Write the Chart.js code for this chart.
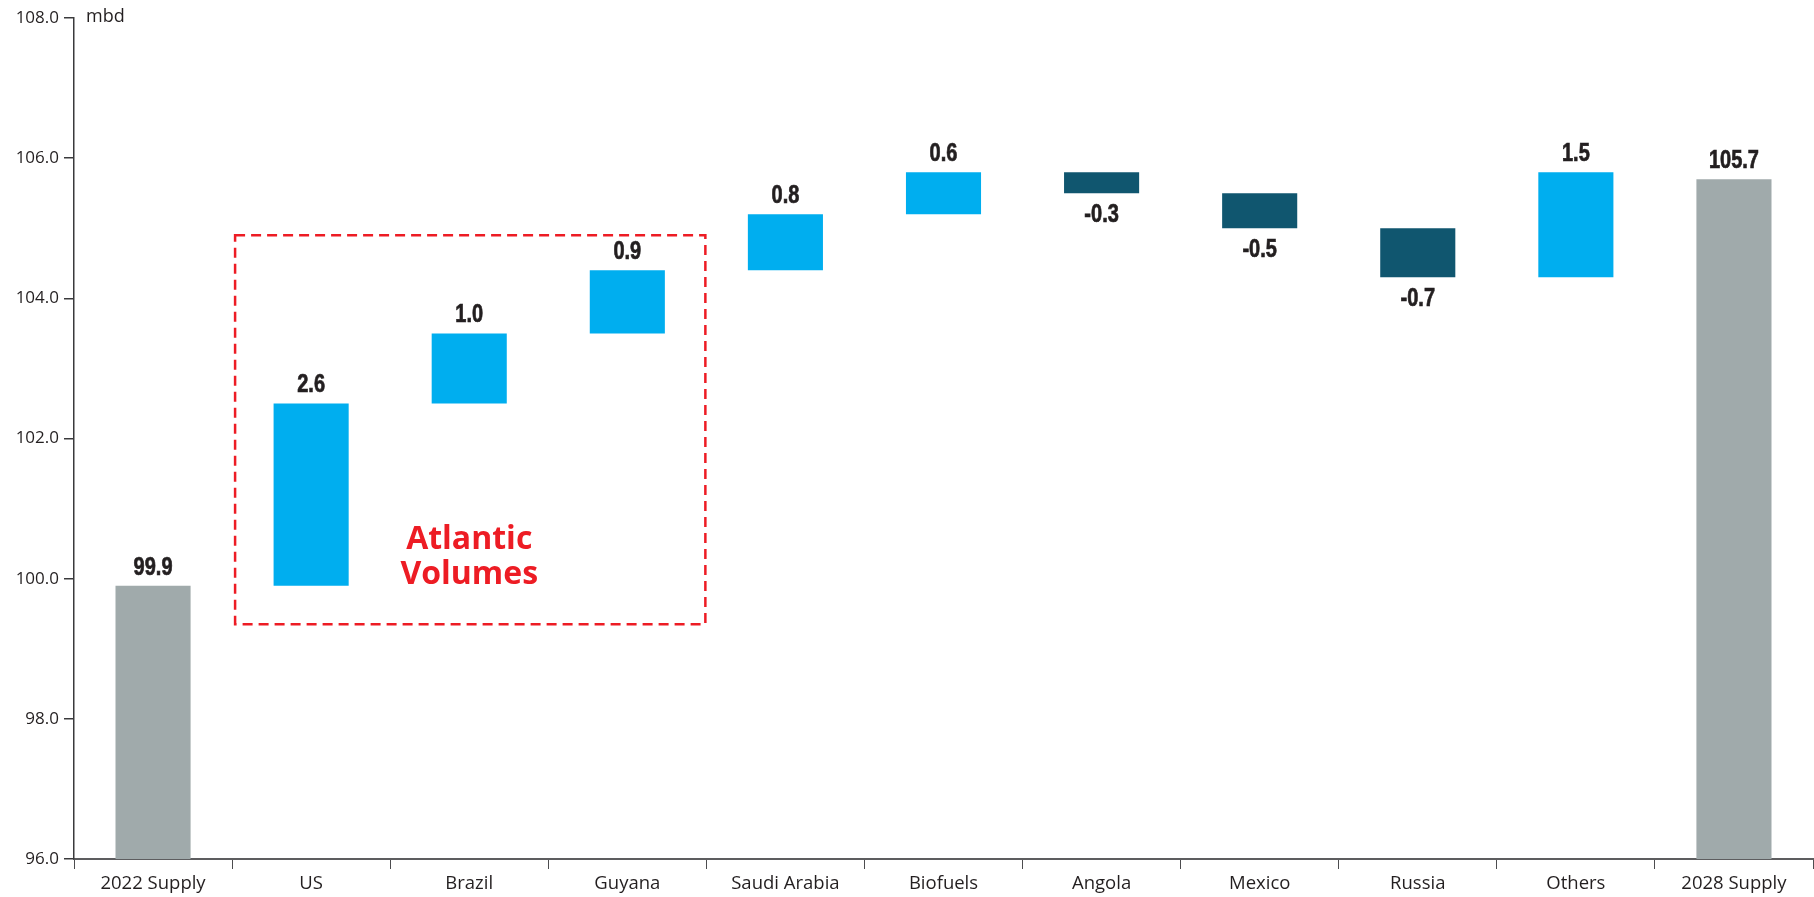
<!DOCTYPE html>
<html lang="en">
<head>
    <meta charset="UTF-8">
    <title>Oil Supply Growth 2022-2028</title>
    <style>
        body {
            margin: 0;
            padding: 0;
            background-color: #fff;
        }

        .chart-container {
            position: relative;
            width: 1814px;
            height: 897px;
        }
    </style>
</head>
<body>
    <div class="chart-container">
        <canvas id="supplyChart"></canvas>
    </div>
    <script src="https://cdn.jsdelivr.net/npm/chart.js"></script>
    <script>
        const categories = ['2022 Supply', 'US', 'Brazil', 'Guyana', 'Saudi Arabia', 'Biofuels', 'Angola', 'Mexico', 'Russia', 'Others', '2028 Supply'];
        const startSupply = 99.9;
        const changes = [2.6, 1.0, 0.9, 0.8, 0.6, -0.3, -0.5, -0.7, 1.5]; // US .. Others
        const endSupply = 105.7;
        const yTicks = [96, 98, 100, 102, 104, 106, 108];

        const axisMin = 96;
        const axisMax = 108;

        const colors = {
            total: '#a0aaab',
            up: '#00aeef',
            down: '#10566f',
            text: '#231f20',
            note: '#ed1c24'
        };

        // build the floating bars for the waterfall
        const bars = [[axisMin, startSupply]];
        const barColors = [colors.total];
        const barLabels = [startSupply.toFixed(1)];
        let running = startSupply;
        changes.forEach(delta => {
            const next = Math.round((running + delta) * 10) / 10;
            bars.push([running, next]);
            barColors.push(delta >= 0 ? colors.up : colors.down);
            barLabels.push(delta.toFixed(1));
            running = next;
        });
        bars.push([axisMin, endSupply]);
        barColors.push(colors.total);
        barLabels.push(endSupply.toFixed(1));

        // dashed box around the Atlantic basin producers
        const atlanticGroup = { first: 'US', last: 'Guyana', top: 104.9, bottom: 99.35 };

        // condensed bold figures: squeeze a regular bold face horizontally
        const drawNarrow = (ctx, text, x, y) => {
            ctx.save();
            ctx.translate(x, y);
            ctx.scale(0.8, 1);
            ctx.fillText(text, 0, 0);
            ctx.strokeText(text, 0, 0);
            ctx.restore();
        };

        const valueLabels = {
            id: 'valueLabels',
            afterDatasetsDraw(chart) {
                const { ctx } = chart;
                const meta = chart.getDatasetMeta(0);
                ctx.save();
                ctx.font = 'bold 25px "Liberation Sans", Arial, sans-serif';
                ctx.fillStyle = colors.text;
                ctx.strokeStyle = colors.text;
                ctx.lineWidth = 0.7;
                ctx.textAlign = 'center';
                ctx.textBaseline = 'alphabetic';
                meta.data.forEach((bar, i) => {
                    const isDrop = barLabels[i].startsWith('-');
                    const top = Math.min(bar.y, bar.base);
                    const bottom = Math.max(bar.y, bar.base);
                    if (isDrop) {
                        drawNarrow(ctx, barLabels[i], bar.x, bottom + 29);
                    } else {
                        drawNarrow(ctx, barLabels[i], bar.x, top - 11);
                    }
                });
                ctx.restore();
            }
        };

        const atlanticBox = {
            id: 'atlanticBox',
            afterDatasetsDraw(chart) {
                const { ctx, scales: { x, y } } = chart;
                const i0 = categories.indexOf(atlanticGroup.first);
                const i1 = categories.indexOf(atlanticGroup.last);
                const left = (x.getPixelForValue(i0 - 1) + x.getPixelForValue(i0)) / 2;
                const right = (x.getPixelForValue(i1) + x.getPixelForValue(i1 + 1)) / 2;
                const top = y.getPixelForValue(atlanticGroup.top);
                const bottom = y.getPixelForValue(atlanticGroup.bottom);

                ctx.save();
                ctx.strokeStyle = colors.note;
                ctx.lineWidth = 2.5;
                ctx.setLineDash([10, 6]);
                ctx.strokeRect(left + 3, top, right - left - 4, bottom - top);
                ctx.setLineDash([]);

                ctx.fillStyle = colors.note;
                ctx.font = 'bold 32px "Open Sans", sans-serif';
                ctx.textAlign = 'center';
                ctx.textBaseline = 'middle';
                const cx = x.getPixelForValue(2);
                ctx.fillText('Atlantic', cx, y.getPixelForValue(100.55));
                ctx.fillText('Volumes', cx, y.getPixelForValue(100.05));
                ctx.restore();
            }
        };

        const unitLabel = {
            id: 'unitLabel',
            afterDraw(chart) {
                const { ctx, chartArea } = chart;
                ctx.save();
                ctx.font = '18px "Open Sans", sans-serif';
                ctx.fillStyle = colors.text;
                ctx.textAlign = 'left';
                ctx.textBaseline = 'middle';
                ctx.fillText('mbd', chartArea.left + 12, chartArea.top - 1);
                ctx.restore();
            }
        };

        const ctx = document.getElementById('supplyChart').getContext('2d');
        new Chart(ctx, {
            type: 'bar',
            data: {
                labels: categories,
                datasets: [{
                    data: bars,
                    backgroundColor: barColors,
                    borderWidth: 0,
                    barPercentage: 0.475,
                    categoryPercentage: 1.0
                }]
            },
            options: {
                responsive: true,
                maintainAspectRatio: false,
                animation: false,
                layout: {
                    padding: { top: 18, right: 1, bottom: 0, left: 0 }
                },
                plugins: {
                    legend: { display: false },
                    tooltip: { enabled: false }
                },
                scales: {
                    x: {
                        offset: true,
                        afterFit(scale) {
                            scale.height = 38;
                        },
                        grid: {
                            offset: true,
                            drawOnChartArea: false,
                            drawTicks: true,
                            tickLength: 10,
                            color: '#4d4d4f',
                            lineWidth: 1
                        },
                        border: { color: '#5d5d5f', width: 2 },
                        ticks: {
                            color: colors.text,
                            padding: 4,
                            maxRotation: 0,
                            autoSkip: false,
                            font: { family: '"Open Sans", sans-serif', size: 18.5 }
                        }
                    },
                    y: {
                        min: axisMin,
                        max: axisMax,
                        afterFit(scale) {
                            scale.width = 74;
                        },
                        afterBuildTicks(scale) {
                            scale.ticks = yTicks.map(v => ({ value: v }));
                        },
                        grid: {
                            drawOnChartArea: false,
                            drawTicks: true,
                            tickLength: 10,
                            color: '#3a3a3c',
                            lineWidth: 1.5
                        },
                        border: { color: '#3a3a3c', width: 1.5 },
                        ticks: {
                            color: colors.text,
                            padding: 5,
                            font: { family: '"Open Sans", sans-serif', size: 17 },
                            callback: value => Number(value).toFixed(1)
                        }
                    }
                }
            },
            plugins: [valueLabels, atlanticBox, unitLabel]
        });
    </script>
</body>
</html>
